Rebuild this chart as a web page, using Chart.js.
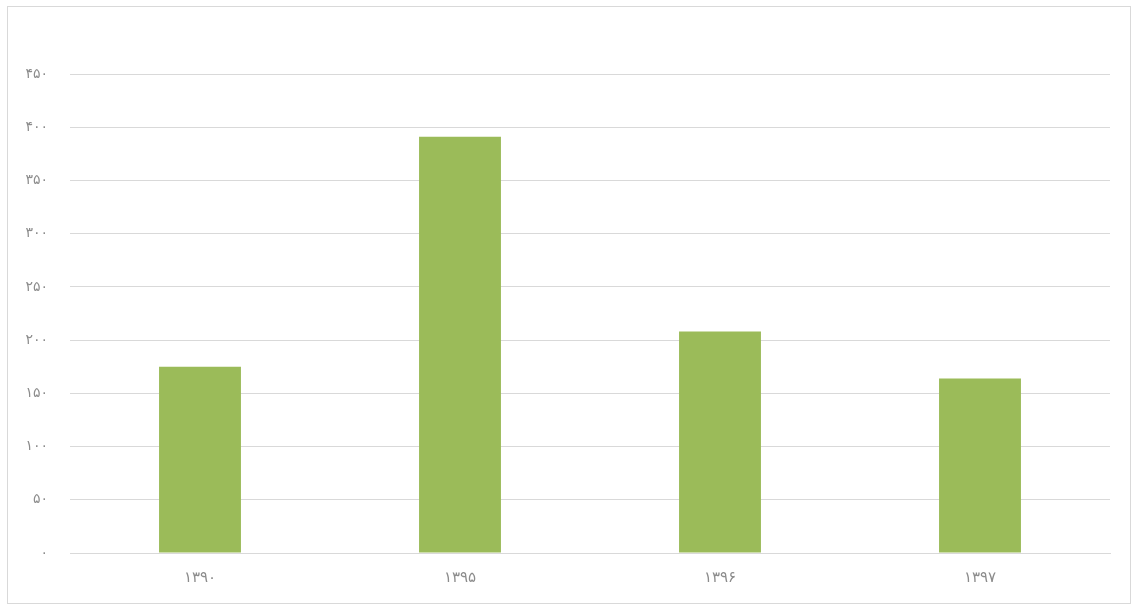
<!DOCTYPE html>
<html>
<head>
<meta charset="utf-8">
<script src="https://cdn.jsdelivr.net/npm/chart.js@4/dist/chart.umd.min.js"></script>
<style>
  html, body { margin: 0; padding: 0; background: #fff; }
  #frame { position: absolute; left: 7px; top: 6px; width: 1122px; height: 596px; border: 1px solid #d9d9d9; }
  #wrap { position: absolute; left: 0; top: 0; width: 1135px; height: 604px; }
</style>
</head>
<body>
<div id="frame"></div>
<div id="wrap"><canvas id="chart" width="1135" height="604"></canvas></div>
<script>
const categories = ["۱۳۹۰", "۱۳۹۵", "۱۳۹۶", "۱۳۹۷"]
const values = [175, 391, 208, 164]
const yTickLabels = ["۰", "۵۰", "۱۰۰", "۱۵۰", "۲۰۰", "۲۵۰", "۳۰۰", "۳۵۰", "۴۰۰", "۴۵۰"]

const ctx = document.getElementById("chart").getContext("2d")
ctx.letterSpacing = "2px"
new Chart(ctx, {
  type: "bar",
  data: {
    labels: categories,
    datasets: [
      {
        data: values,
        backgroundColor: "#9bbb59",
        categoryPercentage: 1,
        barPercentage: 0.315,
      },
    ],
  },
  options: {
    responsive: false,
    animation: false,
    layout: { padding: { top: 74, right: 25, bottom: 0, left: 0 } },
    plugins: {
      legend: { display: false },
      tooltip: { enabled: false },
    },
    scales: {
      x: {
        grid: { display: false, drawTicks: false },
        border: { color: "#d9d9d9" },
        ticks: {
          color: "#8c8c8c",
          font: { family: "DejaVu Sans", size: 15 },
          padding: 16,
        },
        afterFit: (scale) => { scale.height = 51 },
      },
      y: {
        min: 0,
        max: 450,
        grid: { color: "#d9d9d9", drawTicks: false },
        border: { display: false },
        ticks: {
          stepSize: 50,
          color: "#8c8c8c",
          font: { family: "DejaVu Sans", size: 14 },
          padding: 22,
          callback: (value, index) => yTickLabels[index],
        },
        afterFit: (scale) => { scale.width = 70 },
      },
    },
  },
})
</script>
</body>
</html>
